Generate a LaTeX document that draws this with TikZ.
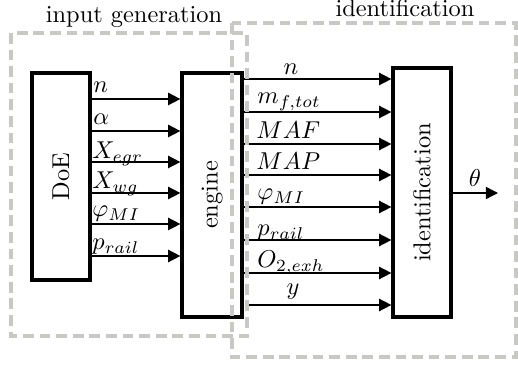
\documentclass[tikz,border=0pt]{standalone}
\usetikzlibrary{arrows.meta,fit}
\definecolor{groupgray}{RGB}{200,200,196}
\begin{document}
\begin{tikzpicture}[x=0.41pt,y=-0.41pt,
  block/.style={draw,line width=1.3pt,inner sep=0pt},
  flow/.style={line width=0.6pt,-{Triangle[length=5pt,width=5pt]}},
  group/.style={draw=groupgray,line width=1.8pt,dash pattern=on 4.4pt off 2.4pt},
  lab/.style={anchor=base west,inner sep=0pt},
  clab/.style={anchor=base,inner sep=0pt},
  ]
\useasboundingbox (0,0) rectangle (518,366);

% blocks
\node[block,fit={(32,73) (90,280)}] (doe) {};
\node[block,fit={(182,73) (242,317)}] (engine) {};
\node[block,fit={(393,68) (451,317)}] (ident) {};
\node[rotate=90] (doetxt) at (doe.center) {DoE};
\node[rotate=90] (enginetxt) at (engine.center) {engine};
\node[rotate=90] (identtxt) at (ident.center) {identification};

% DoE -> engine
\coordinate (l1) at (0,99);
\coordinate (l2) at (0,131);
\coordinate (l3) at (0,162);
\coordinate (l4) at (0,193);
\coordinate (l5) at (0,224);
\coordinate (l6) at (0,256);
\foreach \k in {1,...,6} {\draw[flow] (doe.east |- l\k) -- (engine.west |- l\k);}
\node[lab] (ln) at (93,93) {$n$};
\node[lab] (lalpha) at (93,125) {$\alpha$};
\node[lab] (legr) at (92,159) {$X_{egr}$};
\node[lab] (lwg) at (92,189) {$X_{wg}$};
\node[lab] (lphi) at (92,217) {$\varphi_{MI}$};
\node[lab] (lrail) at (92,250) {$p_{rail}$};

% engine -> identification
\coordinate (r1) at (0,79);
\coordinate (r2) at (0,112);
\coordinate (r3) at (0,144);
\coordinate (r4) at (0,175);
\coordinate (r5) at (0,207);
\coordinate (r6) at (0,240);
\coordinate (r7) at (0,273);
\foreach \k in {1,...,7} {\draw[flow] (engine.east |- r\k) -- (ident.west |- r\k);}
\coordinate (ystart) at (247,305);
\draw[flow] (ystart) -- (ident.west |- ystart);
\node[clab] (rn) at (291,75) {$n$};
\node[lab] (rmf) at (257,104) {$m_{f,tot}$};
\node[lab] (rmaf) at (256,139) {$MAF$};
\node[lab] (rmap) at (256,170) {$MAP$};
\node[lab] (rphi) at (257,200) {$\varphi_{MI}$};
\node[lab] (rrail) at (257,236) {$p_{rail}$};
\node[lab] (rox) at (257,268) {$O_{2,exh}$};
\node[clab] (ry) at (293,295) {$y$};

% output
\coordinate (thetaend) at (498,193);
\draw[flow] (ident.east |- thetaend) -- (thetaend);
\node[clab] (theta) at (475,187) {$\theta$};

% groups
\draw[group] (11,33) rectangle (247,336);
\draw[group] (232,23) rectangle (516,357);
\node[clab] (gentitle) at (134,23) {input generation};
\node[clab] (idtitle) at (405,17) {identification};
\end{tikzpicture}
\end{document}
